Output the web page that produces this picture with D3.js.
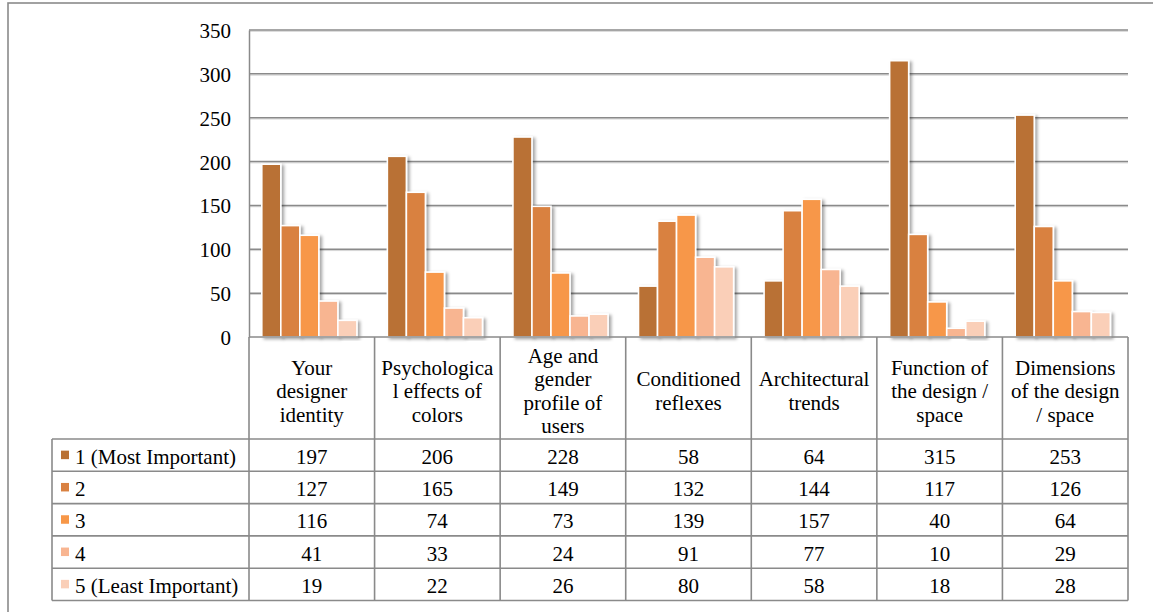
<!DOCTYPE html>
<html>
<head>
<meta charset="utf-8">
<script src="https://cdn.jsdelivr.net/npm/d3@7"></script>
<style>
  html, body { margin: 0; padding: 0; background: #fff; }
  svg { display: block; }
  svg text { font-family: "Liberation Serif", "Times New Roman", serif; }
</style>
</head>
<body>
<svg id="chart" width="1153" height="612"></svg>
<script>
// Categories (each entry holds the wrapped header lines)
const categories = [
  "Your designer identity",
  "Psychological effects of colors",
  "Age and gender profile of users",
  "Conditioned reflexes",
  "Architectural trends",
  "Function of the design / space",
  "Dimensions of the design / space"
];
const categoryLines = [
  ["Your", "designer", "identity"],
  ["Psychologica", "l effects of", "colors"],
  ["Age and", "gender", "profile of", "users"],
  ["Conditioned", "reflexes"],
  ["Architectural", "trends"],
  ["Function of", "the design /", "space"],
  ["Dimensions", "of the design", "/ space"]
];

// Series (importance ranking)
const seriesNames = ["1 (Most Important)", "2", "3", "4", "5 (Least Important)"];
const rank1 = [197, 206, 228, 58, 64, 315, 253];
const rank2 = [127, 165, 149, 132, 144, 117, 126];
const rank3 = [116, 74, 73, 139, 157, 40, 64];
const rank4 = [41, 33, 24, 91, 77, 10, 29];
const rank5 = [19, 22, 26, 80, 58, 18, 28];
const seriesValues = [rank1, rank2, rank3, rank4, rank5];
const seriesColors = ["#b97134", "#d98141", "#f79748", "#f8b591", "#facfb8"];

const yTicks = [0, 50, 100, 150, 200, 250, 300, 350];

const svg = d3.select("#chart");
const gridColor = "#8a8a8a";
const fontSize = 21;
const serif = "Liberation Serif, Times New Roman, serif";

// Layout
const plotLeft = 249, plotRight = 1128, plotTop = 30, plotBottom = 337;
const headerBottom = 439, rowH = 32.3, legendLeft = 52;

// Soft drop shadow used on the bars
const defs = svg.append("defs");
const f = defs.append("filter").attr("id", "barShadow")
  .attr("x", "-30%").attr("y", "-10%").attr("width", "180%").attr("height", "130%");
f.append("feDropShadow").attr("dx", 2.5).attr("dy", 1.5).attr("stdDeviation", 1.4)
  .attr("flood-color", "#000").attr("flood-opacity", 0.35);

// Outer frame (only its top and left edges fall inside the view)
svg.append("rect").attr("x", 8).attr("y", 3).attr("width", 1170).attr("height", 640)
  .attr("fill", "none").attr("stroke", gridColor).attr("stroke-width", 1.6);

// Scales
const x = d3.scaleBand().domain(categories).range([plotLeft, plotRight]).padding(0);
const xs = d3.scaleBand().domain(seriesNames).range([0, x.bandwidth()])
  .paddingInner(0).paddingOuter(0.8).align(0.42);
const y = d3.scaleLinear().domain([0, 350]).range([plotBottom, plotTop]);

// Horizontal gridlines (with a faint lighter line beneath)
const grid = svg.append("g");
grid.selectAll("line.sh").data(yTicks.filter(d => d > 0)).join("line")
  .attr("x1", plotLeft).attr("x2", plotRight)
  .attr("y1", d => y(d) + 1.3).attr("y2", d => y(d) + 1.3)
  .attr("stroke", "#d4d4d4").attr("stroke-width", 1);
grid.selectAll("line.gl").data(yTicks.filter(d => d > 0)).join("line")
  .attr("x1", plotLeft).attr("x2", plotRight)
  .attr("y1", d => y(d)).attr("y2", d => y(d))
  .attr("stroke", gridColor).attr("stroke-width", 1.5);

// Y axis with labels
const yAxis = d3.axisLeft(y).tickValues(yTicks).tickSize(0).tickPadding(18);
const yg = svg.append("g").attr("transform", `translate(${plotLeft},0)`).call(yAxis)
  .attr("font-family", serif);
yg.select(".domain").attr("stroke", gridColor).attr("stroke-width", 1.5);
yg.selectAll("text").attr("font-size", fontSize).attr("fill", "#000")
  .attr("font-family", serif).attr("dy", "0.36em");

// Bars
const groups = svg.append("g").selectAll("g").data(categories).join("g")
  .attr("transform", d => `translate(${x(d)},0)`);
groups.selectAll("rect")
  .data((c, ci) => seriesNames.map((s, si) => ({ s, si, v: seriesValues[si][ci] })))
  .join("rect")
  .attr("x", d => xs(d.s))
  .attr("width", xs.bandwidth())
  .attr("y", d => y(d.v))
  .attr("height", d => y(0) - y(d.v))
  .attr("fill", d => seriesColors[d.si])
  .attr("stroke", "#fff").attr("stroke-width", 1.6)
  .attr("filter", "url(#barShadow)");

// Data table
const tbl = svg.append("g").attr("font-family", serif);
const tableBottom = headerBottom + rowH * seriesNames.length;
const lineAttrs = sel => sel.attr("stroke", gridColor).attr("stroke-width", 1.6);

// Category header row
tbl.selectAll("g.hdr").data(categories).join("g")
  .each(function (c, i) {
    const lines = categoryLines[i];
    const cx = x(c) + x.bandwidth() / 2;
    const lh = 23.5;
    const midY = (plotBottom + headerBottom) / 2 + 2;
    const t = d3.select(this).append("text")
      .attr("text-anchor", "middle").attr("font-size", fontSize)
      .attr("font-family", serif).attr("fill", "#000");
    lines.forEach((ln, k) => {
      t.append("tspan").attr("x", cx)
        .attr("y", midY + (k - (lines.length - 1) / 2) * lh + 8)
        .text(ln);
    });
  });

// Horizontal table rules
const hRows = d3.range(seriesNames.length + 1).map(k => headerBottom + k * rowH);
tbl.selectAll("line.h").data(hRows).join("line")
  .attr("x1", legendLeft).attr("x2", plotRight)
  .attr("y1", d => d).attr("y2", d => d).call(lineAttrs);
tbl.append("line").attr("x1", plotLeft).attr("x2", plotRight)
  .attr("y1", plotBottom).attr("y2", plotBottom).call(lineAttrs);

// Vertical table rules
const vCols = categories.map(c => x(c)).concat([plotRight]);
tbl.selectAll("line.v").data(vCols).join("line")
  .attr("x1", d => d).attr("x2", d => d)
  .attr("y1", plotBottom).attr("y2", tableBottom).call(lineAttrs);
tbl.append("line").attr("x1", legendLeft).attr("x2", legendLeft)
  .attr("y1", headerBottom).attr("y2", tableBottom).call(lineAttrs);

// Legend keys and series names
const rows = tbl.selectAll("g.row").data(seriesNames).join("g")
  .attr("transform", (d, i) => `translate(0,${headerBottom + i * rowH})`);
rows.append("rect").attr("x", 61).attr("y", rowH / 2 - 4.5)
  .attr("width", 8).attr("height", 8.5)
  .attr("fill", (d, i) => seriesColors[i]);
rows.append("text").attr("x", 75).attr("y", rowH / 2 + 8.5)
  .attr("font-size", fontSize).attr("font-family", serif).attr("fill", "#000")
  .text(d => d);

// Value cells
rows.each(function (s, si) {
  d3.select(this).selectAll("text.val").data(categories).join("text")
    .attr("class", "val")
    .attr("x", c => x(c) + x.bandwidth() / 2)
    .attr("y", rowH / 2 + 8.5)
    .attr("text-anchor", "middle").attr("font-size", fontSize)
    .attr("font-family", serif).attr("fill", "#000")
    .text((c, ci) => seriesValues[si][ci]);
});
</script>
</body>
</html>
